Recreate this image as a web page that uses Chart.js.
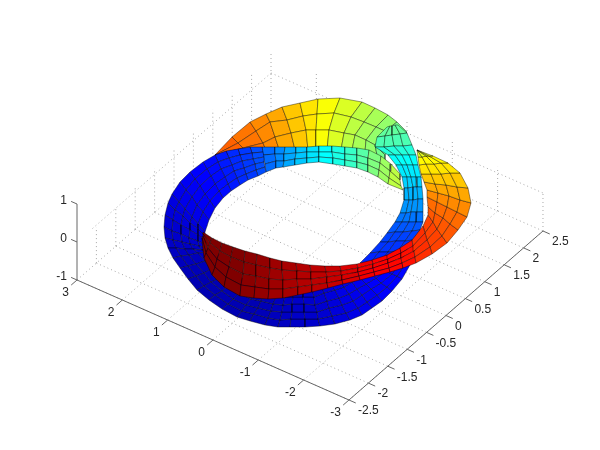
<!DOCTYPE html>
<html>
<head>
<meta charset="utf-8">
<title>Twisted band surface</title>
<script src="https://cdn.jsdelivr.net/npm/chart.js@4"></script>
<style>
  html, body { margin: 0; padding: 0; background: #fff; }
  canvas { display: block; }
</style>
</head>
<body>
<canvas id="surf" width="600" height="450"></canvas>
<script>
// tick values of the 3D box
const xTicks = [3, 2, 1, 0, -1, -2, -3];
const yTicks = [-2.5, -2, -1.5, -1, -0.5, 0, 0.5, 1, 1.5, 2, 2.5];
const zTicks = [-1, 0, 1];
const xLabels = ['3', '2', '1', '0', '-1', '-2', '-3'];
const yLabels = ['-2.5', '-2', '-1.5', '-1', '-0.5', '0', '0.5', '1', '1.5', '2', '2.5'];
const zLabels = ['-1', '0', '1'];

// how far up the dotted wall lines reach (z)
const leftWallTops = [-0.05, 0.03, 0.1, 0.16, 0.24, 0.26, 0.37, 0.37, 0.47, 0.53];
const backWallTops = [0.5, 0.42, 0.29, 0.34, 0.16, 0.03];

// surface cells, read as view positions: one list per column, one pair per rail
const topArc = [
  [[215,155],[215,155],[215,155],[215,155]],
  [[232,137],[238,143],[243,148],[247,155]],
  [[250,122],[256,131],[263,143],[268,155]],
  [[266,114],[270,122],[275,137],[280,152]],
  [[282,107],[287,120],[291,133],[295,150]],
  [[300,103],[303,116],[306,130],[308,150]],
  [[318,99],[317,114],[316,130],[316,150]],
  [[340,98],[334,113],[329,130],[327,150]],
  [[362,102],[351,117],[344,133],[341,150]],
  [[375,108],[364,122],[355,135],[352,150]],
  [[388,115],[376,127],[366,140],[365,152]],
  [[397,122],[385,131],[375,145],[377,155]],
  [[407,132],[395,145],[385,155],[385,160]]
];
const topArcLevels = [0.78, 0.76, 0.74, 0.71, 0.68, 0.65, 0.62, 0.59, 0.56, 0.54, 0.52, 0.49];

const frontBand = [
  [[262,147],[263,155],[265,164],[266,172]],
  [[275,147],[275,154],[276,161],[276,168]],
  [[285,147],[284,154],[284,161],[283,167]],
  [[296,147],[296,153],[295,159],[295,165]],
  [[307,147],[307,152],[307,158],[307,163]],
  [[319,146],[319,152],[319,157],[319,162]],
  [[332,146],[332,152],[333,158],[333,164]],
  [[345,147],[345,154],[345,160],[345,166]],
  [[357,148],[357,155],[357,162],[357,168]],
  [[369,150],[368,158],[368,165],[368,172]],
  [[381,156],[380,163],[379,170],[378,177]],
  [[391,164],[390,171],[389,178],[388,184]],
  [[400,174],[400,180],[401,186],[403,190]]
];
const frontBandLevels = [0.23, 0.26, 0.29, 0.32, 0.35, 0.375, 0.4, 0.43, 0.46, 0.5, 0.53, 0.56];

const rightLoop = [
  [[423,226],[425,233],[427,240],[430,247],[432,254]],
  [[428,215],[433,222],[437,229],[442,236],[447,243]],
  [[428,207],[435,213],[443,218],[450,224],[458,230]],
  [[427,197],[437,202],[447,207],[457,212],[467,217]],
  [[427,190],[438,193],[449,196],[460,200],[471,203]],
  [[424,182],[435,184],[446,185],[457,187],[468,188]],
  [[421,174],[431,174],[441,174],[450,173],[460,173]],
  [[419,165],[426,164],[434,164],[441,163],[448,163]],
  [[418,157],[422,157],[426,156],[429,156],[433,156]],
  [[417,150],[417,150],[417,150],[417,150],[417,150]]
];
const rightLoopLevels = [0.81, 0.79, 0.77, 0.74, 0.71, 0.68, 0.65, 0.63, 0.6];

const twistTube = [
  [[387,127],[390,126],[392,126],[395,125],[398,125]],
  [[377,137],[385,136],[392,135],[400,134],[407,133]],
  [[375,147],[384,147],[394,146],[403,146],[412,145]],
  [[388,155],[395,155],[402,155],[409,155],[416,155]],
  [[396,165],[402,165],[407,165],[413,165],[418,165]],
  [[402,177],[407,177],[411,177],[416,177],[421,177]],
  [[404,188],[408,188],[413,187],[417,187],[422,187]],
  [[404,200],[409,200],[413,200],[418,199],[423,199]],
  [[400,213],[406,213],[411,212],[417,212],[423,212]],
  [[395,222],[402,222],[409,222],[416,222],[423,222]],
  [[387,233],[395,232],[403,232],[412,231],[420,230]],
  [[380,242],[388,242],[396,241],[405,241],[413,240]],
  [[370,253],[379,252],[388,252],[398,251],[407,250]],
  [[360,263],[371,262],[381,261],[392,259],[403,258]]
];
const twistTubeLevels = [0.47, 0.45, 0.41, 0.38, 0.355, 0.33, 0.3, 0.27, 0.24, 0.21, 0.19, 0.175, 0.16];

const blueLobe = [
  [[262,147],[263,152],[264,157],[264,162],[265,167],[266,172]],
  [[250,147],[252,153],[253,159],[255,164],[256,170],[258,176]],
  [[238,149],[240,155],[242,161],[244,168],[246,174],[248,180]],
  [[226,151],[229,158],[232,165],[234,171],[237,178],[240,185]],
  [[215,155],[218,162],[221,169],[225,177],[228,184],[231,191]],
  [[203,162],[207,169],[211,176],[215,184],[219,191],[223,198]],
  [[190,172],[195,179],[200,186],[205,194],[210,201],[215,208]],
  [[180,182],[186,190],[192,197],[197,205],[203,212],[209,220]],
  [[172,194],[179,202],[185,209],[192,217],[198,224],[205,232]],
  [[168,203],[175,210],[183,216],[190,223],[198,229],[205,236]],
  [[165,215],[173,220],[181,225],[190,230],[198,235],[206,240]],
  [[164,227],[172,231],[181,234],[189,238],[198,241],[206,245]],
  [[165,238],[173,240],[182,242],[190,244],[199,246],[207,248]],
  [[168,248],[176,248],[185,249],[193,249],[202,250],[210,250]],
  [[173,258],[181,256],[189,255],[198,253],[206,252],[214,250]],
  [[180,268],[188,266],[196,264],[205,261],[213,259],[221,257]],
  [[188,279],[196,276],[204,273],[211,269],[219,266],[227,263]],
  [[197,290],[204,286],[211,282],[218,279],[225,275],[232,271]],
  [[209,300],[215,295],[222,291],[228,286],[235,282],[241,277]],
  [[222,309],[228,304],[233,299],[239,293],[244,288],[250,283]],
  [[237,317],[242,311],[246,305],[251,299],[255,293],[260,287]],
  [[250,321],[254,314],[258,308],[261,301],[265,295],[269,288]],
  [[265,325],[268,318],[271,311],[273,304],[276,297],[279,290]],
  [[278,327],[280,320],[282,312],[283,305],[285,297],[287,290]],
  [[290,327],[291,319],[292,312],[292,304],[293,297],[294,289]],
  [[305,327],[305,319],[304,312],[304,304],[303,297],[303,289]],
  [[320,326],[318,319],[317,312],[315,305],[314,297],[312,288]],
  [[335,324],[332,316],[329,308],[327,301],[324,293],[321,285]],
  [[350,320],[346,313],[342,305],[339,298],[335,290],[331,283]],
  [[362,315],[358,308],[353,301],[349,294],[344,287],[340,280]],
  [[372,308],[367,302],[362,295],[357,289],[352,282],[347,276]],
  [[382,301],[377,295],[371,289],[366,284],[360,278],[355,272]],
  [[392,291],[387,287],[381,283],[376,278],[370,274],[365,270]],
  [[402,279],[397,276],[392,274],[386,271],[381,268],[376,265]],
  [[410,265],[405,264],[400,262],[395,261],[390,259],[385,258]]
];
const blueLobeLevels = [0.2, 0.18, 0.165, 0.15, 0.135, 0.125, 0.115, 0.105, 0.095, 0.09, 0.08, 0.075, 0.07, 0.065, 0.06, 0.055, 0.05, 0.05, 0.05, 0.05, 0.05, 0.055, 0.06, 0.065, 0.07, 0.075, 0.08, 0.09, 0.1, 0.105, 0.11, 0.12, 0.125, 0.13];

const redBand = [
  [[203,232],[203,234],[203,236],[202,238],[202,240]],
  [[212,238],[210,243],[208,248],[206,253],[204,258]],
  [[222,243],[220,251],[217,259],[215,267],[212,275]],
  [[233,247],[231,257],[229,267],[226,277],[224,287]],
  [[245,251],[244,262],[243,274],[241,285],[240,296]],
  [[257,254],[256,265],[256,276],[255,287],[254,298]],
  [[270,258],[270,268],[269,279],[269,289],[268,299]],
  [[282,261],[282,270],[283,280],[283,289],[283,298]],
  [[296,263],[297,271],[297,279],[298,287],[298,295]],
  [[310,265],[311,272],[311,279],[312,285],[312,292]],
  [[325,266],[326,272],[327,277],[327,283],[328,288]],
  [[340,266],[341,271],[342,275],[342,280],[343,284]],
  [[357,264],[358,268],[358,272],[359,276],[360,280]],
  [[372,260],[373,264],[373,268],[374,272],[375,276]],
  [[387,255],[388,259],[388,263],[389,268],[390,272]],
  [[400,248],[401,253],[401,258],[402,263],[403,268]],
  [[412,240],[413,246],[414,251],[415,257],[416,263]],
  [[423,226],[425,233],[427,240],[430,247],[432,254]]
];
const redBandLevels = [1, 1, 1, 1, 0.99, 0.98, 0.97, 0.96, 0.95, 0.94, 0.93, 0.91, 0.89, 0.88, 0.87, 0.86, 0.83];

// MATLAB jet colormap
function jet(t) {
  const ramp = v => Math.round(255 * Math.max(0, Math.min(1, v)));
  const r = ramp(Math.min(4 * t - 1.5, 4.5 - 4 * t));
  const g = ramp(Math.min(4 * t - 0.5, 3.5 - 4 * t));
  const b = ramp(Math.min(4 * t + 0.5, 2.5 - 4 * t));
  return `rgb(${r},${g},${b})`;
}

// orthographic view of the box onto the canvas
function project(x, y, z) {
  return {
    x: 77 + (3 - x) * 45.33 + (y + 2.5) * 38.8,
    y: 280 + (3 - x) * 20 - (y + 2.5) * 33.8 - (z + 1) * 38
  };
}

const datasets = [];

function addLine(pts, color, width, dash) {
  datasets.push({
    data: pts,
    showLine: true,
    borderColor: color,
    borderWidth: width,
    borderDash: dash || [],
    pointRadius: 0,
    tension: 0,
    fill: false
  });
}

function addPatch(cols, levels) {
  for (let i = 0; i < cols.length - 1; i++) {
    for (let j = 0; j < cols[i].length - 1; j++) {
      const corners = [cols[i][j], cols[i + 1][j], cols[i + 1][j + 1], cols[i][j + 1], cols[i][j]];
      datasets.push({
        data: corners.map(p => ({ x: p[0], y: p[1] })),
        showLine: true,
        borderColor: 'rgba(0,0,0,0.5)',
        borderWidth: 0.8,
        backgroundColor: jet(levels[i]),
        pointRadius: 0,
        tension: 0,
        fill: 'shape'
      });
    }
  }
}

// Dotted grid
const gridColor = '#a8a8a8';
const gridDash = [1, 3];
xTicks.forEach(x => addLine([project(x, -2.5, -1), project(x, 2.5, -1)], gridColor, 1, gridDash));
yTicks.forEach(y => addLine([project(3, y, -1), project(-3, y, -1)], gridColor, 1, gridDash));
addLine([project(3, -2.1, 0), project(3, 2.5, 0)], gridColor, 1, gridDash);
addLine([project(3, 2.5, 0), project(-3, 2.5, 0)], gridColor, 1, gridDash);
yTicks.slice(1).forEach((y, i) => addLine([project(3, y, -1), project(3, y, leftWallTops[i])], gridColor, 1, gridDash));
xTicks.slice(1).forEach((x, i) => addLine([project(x, 2.5, -1), project(x, 2.5, backWallTops[i])], gridColor, 1, gridDash));

// Surface, back to front
addPatch(topArc, topArcLevels);
addPatch(frontBand, frontBandLevels);
addPatch(rightLoop, rightLoopLevels);
addPatch(twistTube, twistTubeLevels);
addPatch(blueLobe, blueLobeLevels);
addPatch(redBand, redBandLevels);

// Solid axes with their tick marks
const axisColor = '#666666';
addLine([project(3, -2.5, -1), project(3, -2.5, 1)], axisColor, 1);
addLine([project(3, -2.5, -1), project(-3, -2.5, -1)], axisColor, 1);
addLine([project(-3, -2.5, -1), project(-3, 2.5, -1)], axisColor, 1);
zTicks.forEach(z => addLine([project(3, -2.5, z), project(3.13, -2.5, z)], axisColor, 1));
xTicks.forEach(x => addLine([project(x, -2.5, -1), project(x, -2.65, -1)], axisColor, 1));
yTicks.forEach(y => addLine([project(-3, y, -1), project(-3.15, y, -1)], axisColor, 1));

datasets.forEach((d, i) => { d.order = -i; });

// Tick labels sit beside the oblique axes, so they go on through the scales
const boxLabels = {
  id: 'boxLabels',
  afterDatasetsDraw(chart) {
    const { ctx, scales } = chart;
    const put = (pos, text, dx, dy, align) => {
      ctx.textAlign = align;
      ctx.fillText(text, scales.x.getPixelForValue(pos.x) + dx, scales.y.getPixelForValue(pos.y) + dy);
    };
    ctx.save();
    ctx.font = "12px 'Liberation Sans', Arial, sans-serif";
    ctx.fillStyle = '#262626';
    ctx.textBaseline = 'middle';
    xTicks.forEach((x, i) => put(project(x, -2.5, -1), xLabels[i], -8, 13, 'right'));
    yTicks.forEach((y, i) => put(project(-3, y, -1), yLabels[i], 9, 11, 'left'));
    zTicks.forEach((z, i) => put(project(3, -2.5, z), zLabels[i], -10, -3, 'right'));
    ctx.restore();
  }
};

new Chart(document.getElementById('surf').getContext('2d'), {
  type: 'scatter',
  data: { datasets },
  plugins: [boxLabels],
  options: {
    responsive: false,
    animation: false,
    layout: { padding: 0 },
    plugins: { legend: { display: false }, tooltip: { enabled: false } },
    scales: {
      x: { type: 'linear', display: false, min: 0, max: 600 },
      y: { type: 'linear', display: false, min: 0, max: 450, reverse: true }
    }
  }
});
</script>
</body>
</html>
